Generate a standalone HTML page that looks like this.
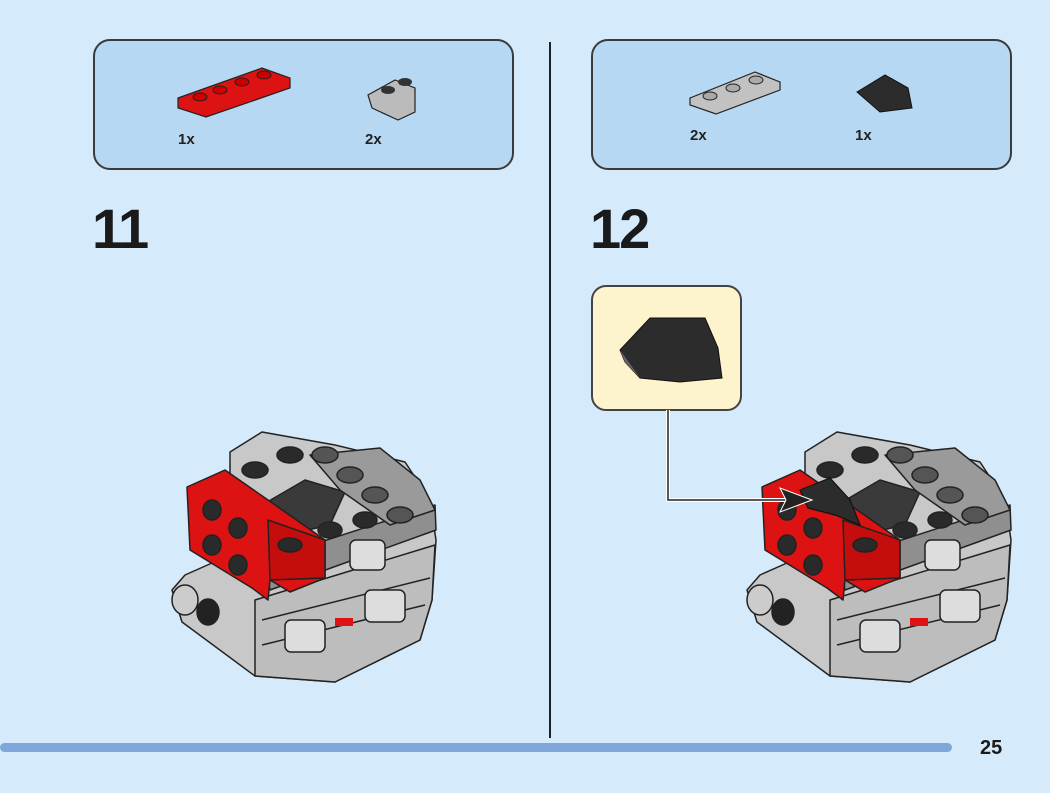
<!DOCTYPE html>
<html><head><meta charset="utf-8"><style>
html,body{margin:0;padding:0;background:#d5eafa;}
body{width:1050px;height:793px;position:relative;overflow:hidden;font-family:"Liberation Sans",sans-serif;}
</style></head><body>
<svg width="1050" height="793" viewBox="0 0 1050 793" xmlns="http://www.w3.org/2000/svg" style="position:absolute;left:0;top:0">
<defs>
<g id="model" stroke="#222" stroke-width="1.5" stroke-linejoin="round">
  <polygon points="172,590 185,575 230,555 230,452 262,432 335,445 405,462 430,500 436,540 432,600 420,640 335,682 255,676 182,622" fill="#c8c8c8"/>
  <polygon points="255,600 435,545 432,600 420,640 335,682 255,676" fill="#bdbdbd"/>
  <line x1="262" y1="620" x2="430" y2="578"/>
  <line x1="262" y1="645" x2="425" y2="605"/>
  <polygon points="265,560 435,505 436,530 270,590" fill="#8f8f8f"/>
  <polygon points="262,505 305,480 345,492 330,525 285,535" fill="#3a3a3a"/>
  <polygon points="310,455 380,448 420,480 435,510 390,525 340,490" fill="#9a9a9a"/>
  <polygon points="187,487 225,470 268,500 325,540 325,578 290,592 270,580 268,600 252,588 190,550" fill="#dd1212"/>
  <polygon points="268,520 325,540 325,578 270,580" fill="#c40d0d"/>
  <ellipse cx="185" cy="600" rx="13" ry="15" fill="#ccc"/>
  <ellipse cx="208" cy="612" rx="11" ry="13" fill="#222"/>
  <g fill="#2a2a2a">
    <ellipse cx="255" cy="470" rx="13" ry="8"/><ellipse cx="290" cy="455" rx="13" ry="8"/>
    <ellipse cx="325" cy="455" rx="13" ry="8" fill="#555"/><ellipse cx="350" cy="475" rx="13" ry="8" fill="#555"/>
    <ellipse cx="375" cy="495" rx="13" ry="8" fill="#555"/><ellipse cx="400" cy="515" rx="13" ry="8" fill="#555"/>
    <ellipse cx="365" cy="520" rx="12" ry="8"/><ellipse cx="330" cy="530" rx="12" ry="8"/>
    <ellipse cx="212" cy="510" rx="9" ry="10"/><ellipse cx="238" cy="528" rx="9" ry="10"/>
    <ellipse cx="212" cy="545" rx="9" ry="10"/><ellipse cx="238" cy="565" rx="9" ry="10"/>
    <ellipse cx="290" cy="545" rx="12" ry="7"/>
  </g>
  <rect x="350" y="540" width="35" height="30" rx="6" fill="#ddd"/>
  <rect x="365" y="590" width="40" height="32" rx="6" fill="#ddd"/>
  <rect x="285" y="620" width="40" height="32" rx="6" fill="#ddd"/>
  <rect x="335" y="618" width="18" height="8" fill="#dd1212" stroke="none"/>
</g>
</defs>

<rect x="94" y="40" width="419" height="129" rx="16" fill="#b6d8f3" stroke="#3b3b3b" stroke-width="2"/>
<rect x="592" y="40" width="419" height="129" rx="16" fill="#b6d8f3" stroke="#3b3b3b" stroke-width="2"/>

<polygon points="178,98 262,68 290,78 290,88 206,117 178,108" fill="#dd1212" stroke="#222" stroke-width="1.2"/>
<g fill="#c00" stroke="#222"><ellipse cx="200" cy="97" rx="7" ry="4"/><ellipse cx="220" cy="90" rx="7" ry="4"/><ellipse cx="242" cy="82" rx="7" ry="4"/><ellipse cx="264" cy="75" rx="7" ry="4"/></g>
<polygon points="368,95 395,80 415,88 415,112 398,120 372,108" fill="#bbb" stroke="#222" stroke-width="1.2"/>
<ellipse cx="388" cy="90" rx="7" ry="4" fill="#333"/><ellipse cx="405" cy="82" rx="7" ry="4" fill="#333"/>
<text x="178" y="144" font-size="15" font-weight="bold" fill="#222">1x</text>
<text x="365" y="144" font-size="15" font-weight="bold" fill="#222">2x</text>

<polygon points="690,98 755,72 780,82 780,90 716,114 690,105" fill="#c2c2c2" stroke="#222" stroke-width="1.2"/>
<g fill="#aaa" stroke="#222"><ellipse cx="710" cy="96" rx="7" ry="4"/><ellipse cx="733" cy="88" rx="7" ry="4"/><ellipse cx="756" cy="80" rx="7" ry="4"/></g>
<polygon points="857,92 885,75 908,88 912,108 880,112" fill="#2c2c2c" stroke="#111" stroke-width="1"/>
<text x="690" y="140" font-size="15" font-weight="bold" fill="#222">2x</text>
<text x="855" y="140" font-size="15" font-weight="bold" fill="#222">1x</text>

<text x="92" y="248" font-size="56" font-weight="bold" fill="#1a1a1a" letter-spacing="-2">11</text>
<text x="590" y="248" font-size="56" font-weight="bold" fill="#1a1a1a" letter-spacing="-2">12</text>

<line x1="550" y1="42" x2="550" y2="738" stroke="#222" stroke-width="2"/>

<use href="#model"/>
<use href="#model" transform="translate(575,0)"/>
<polygon points="800,490 830,478 850,500 860,525 835,515 808,508" fill="#2c2c2c" stroke="#111" stroke-width="1.2"/>

<rect x="592" y="286" width="149" height="124" rx="14" fill="#fdf3cc" stroke="#444" stroke-width="2"/>
<polygon points="620,350 650,318 705,318 718,348 722,378 680,382 640,378 625,362" fill="#2c2c2c" stroke="#111"/>
<polygon points="620,350 640,378 625,362" fill="#666"/>
<polyline points="668,410 668,500 790,500" fill="none" stroke="#fff" stroke-width="4"/>
<polyline points="668,410 668,500 790,500" fill="none" stroke="#222" stroke-width="1.5"/>
<polygon points="812,500 780,488 786,500 780,512" fill="#222" stroke="#fff" stroke-width="1"/>

<rect x="0" y="743" width="952" height="9" rx="4.5" fill="#7ea6da"/>
<text x="980" y="754" font-size="20" font-weight="bold" fill="#1a1a1a">25</text>
</svg>
</body></html>
